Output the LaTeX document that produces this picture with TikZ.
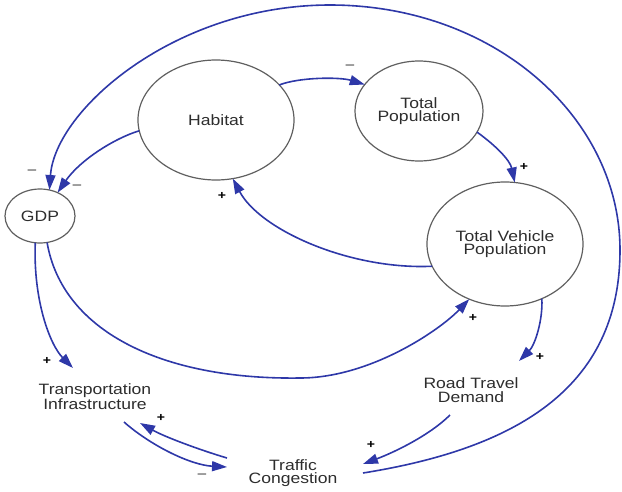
\documentclass[tikz,border=0pt]{standalone}
\usepackage{fontspec}
\setmainfont{Liberation Sans}[FakeStretch=1.17]
\usetikzlibrary{arrows.meta,calc,shapes.geometric}
\definecolor{linkblue}{RGB}{46,56,168}
\definecolor{rimgray}{RGB}{95,95,95}
\definecolor{inkgray}{RGB}{45,45,45}
\begin{document}
\begin{tikzpicture}[x=1pt,y=-1pt,
  stock/.style={ellipse, draw=rimgray, line width=1.2pt, inner sep=0pt, outer sep=0pt,
    align=center, text=inkgray, font=\fontsize{15}{13.5}\selectfont},
  varlabel/.style={align=center, text=inkgray, inner sep=0pt, outer sep=0pt,
    font=\fontsize{15}{13.5}\selectfont},
  link/.style={draw=linkblue, line width=1.6pt, -{Triangle[length=15pt,width=10pt]}},
  pluslabel/.style={inner sep=0pt, text=black, font=\fontsize{12}{12}\selectfont\bfseries},
  minuslabel/.style={inner sep=0pt, text=rimgray!80!black, font=\fontsize{15}{15}\selectfont}
]
\useasboundingbox (0,0) rectangle (622,491);

% stocks
\node[stock, minimum width=156pt, minimum height=120pt] (hab) at (216,120) {Habitat};
\node[stock, minimum width=128pt, minimum height=100pt] (tp) at (419,111) {Total\\Population};
\node[stock, minimum width=156pt, minimum height=124pt] (tvp) at (505,244) {Total Vehicle\\Population};
\node[stock, minimum width=70pt, minimum height=54pt] (gdp) at (40,216) {GDP};

% auxiliary variables
\node[varlabel] (ti) at (95,397) {Transportation\\Infrastructure};
\node[varlabel] (rtd) at (471,390) {Road Travel\\Demand};
\node[varlabel] (tc) at (293,473) {Traffic\\Congestion};

% link end points beside the plain-text variables
\coordinate (ostart) at ($(tc)+(70,0)$);
\coordinate (tcrin) at ($(tc)+(70,-9)$);
\coordinate (tclout) at ($(tc)+(-66,-15)$);
\coordinate (tclin) at ($(tc)+(-66,-6)$);
\coordinate (tiin) at ($(ti)+(-22,-29)$);
\coordinate (tiout) at ($(ti)+(29,25)$);
\coordinate (tirin) at ($(ti)+(45,26)$);
\coordinate (rtdin) at ($(rtd)+(48,-29)$);
\coordinate (rtdout) at ($(rtd)+(-21,25)$);

% outer loop: congestion back to GDP
\draw[link] (ostart) .. controls (513,449) and (620,390) .. (620,250)
  .. controls (620,118) and (495,5) .. (330,5)
  .. controls (175,5) and (55,110) .. (gdp.70);

% habitat links
\draw[link] (hab.188) .. controls (115,138) and (80,160) .. (gdp.53);
\draw[link] (hab.29) .. controls (300,77) and (340,77) .. (tp.154);

% population to vehicles and back to habitat
\draw[link] (tp.340) .. controls (495,145) and (510,160) .. (tvp.81);
\draw[link] (tvp.197) .. controls (350,270) and (260,230) .. (hab.286);

% GDP links
\draw[link] (gdp.285) .. controls (62,330) and (160,380) .. (300,378)
  .. controls (370,378) and (440,330) .. (tvp.237);
\draw[link] (gdp.260) .. controls (33,300) and (50,345) .. (tiin);

% travel demand and congestion
\draw[link] (tvp.304) .. controls (543,320) and (535,345) .. (rtdin);
\draw[link] (rtdout) .. controls (430,435) and (395,452) .. (tcrin);
\draw[link] (tclout) .. controls (200,450) and (165,437) .. (tirin);
\draw[link] (tiout) .. controls (150,445) and (190,465) .. (tclin);

% link polarities
\node[minuslabel] (p1) at (32,173) {−};
\node[minuslabel] (p2) at (77,188) {−};
\node[minuslabel] (p3) at (350,68) {−};
\node[pluslabel] (p4) at (524,167) {+};
\node[pluslabel] (p5) at (222,196) {+};
\node[pluslabel] (p6) at (473,318) {+};
\node[pluslabel] (p7) at (540,357) {+};
\node[pluslabel] (p8) at (47,361) {+};
\node[pluslabel] (p9) at (371,445) {+};
\node[pluslabel] (p10) at (161,418) {+};
\node[minuslabel] (p11) at (202,477) {−};
\end{tikzpicture}
\end{document}
